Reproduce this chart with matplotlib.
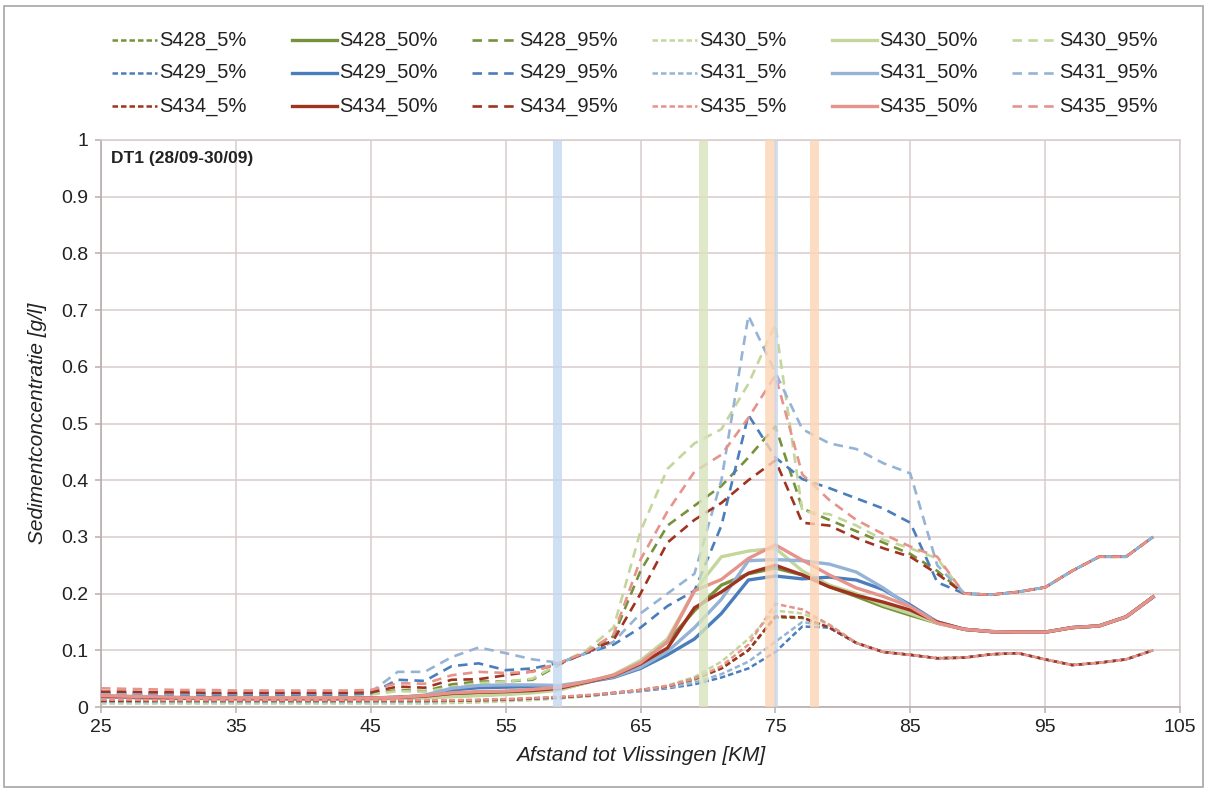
import matplotlib
matplotlib.use("Agg")
import matplotlib.pyplot as plt
from matplotlib.lines import Line2D
from matplotlib.patches import Rectangle
from matplotlib.ticker import FuncFormatter

plt.rcParams['font.family'] = ['Liberation Sans', 'DejaVu Sans']

# Distance from Vlissingen [km]
km = [25, 27, 29, 31, 33, 35, 37, 39, 41, 43, 45, 47, 49, 51, 53, 55, 57, 59, 61, 63,
      65, 67, 69, 71, 73, 75, 77, 79, 81, 83, 85, 87, 89, 91, 93, 95, 97, 99, 101, 103]

# Sediment concentration [g/l] per station and percentile
S428_5 = [0.009, 0.009, 0.008, 0.008, 0.008, 0.008, 0.008, 0.008, 0.008, 0.008, 0.008, 0.009,
          0.009, 0.010, 0.011, 0.012, 0.014, 0.016, 0.019, 0.024,
          0.030, 0.036, 0.048, 0.068, 0.100, 0.158, 0.157, 0.140,
          0.113, 0.097, 0.092, 0.086, 0.087, 0.093, 0.095, 0.084, 0.074, 0.078, 0.084, 0.100]
S428_50 = [0.019, 0.018, 0.017, 0.016, 0.015, 0.015, 0.014, 0.014, 0.014, 0.014, 0.015, 0.016,
           0.017, 0.019, 0.021, 0.023, 0.026, 0.031, 0.043, 0.056,
           0.080, 0.115, 0.170, 0.215, 0.235, 0.245, 0.233, 0.212, 0.195, 0.177, 0.162, 0.148,
           0.137, 0.133, 0.132, 0.132, 0.140, 0.143, 0.159, 0.194]
S428_95 = [0.024, 0.024, 0.023, 0.023, 0.023, 0.022, 0.022, 0.022, 0.022, 0.022, 0.023,
           0.030, 0.028, 0.040, 0.045, 0.045, 0.048, 0.075, 0.097, 0.125,
           0.240, 0.320, 0.355, 0.390, 0.440, 0.495, 0.350, 0.330, 0.310, 0.290, 0.270, 0.240,
           0.200, 0.198, 0.203, 0.211, 0.240, 0.265, 0.265, 0.300]

S430_5 = [0.006, 0.006, 0.006, 0.006, 0.006, 0.006, 0.006, 0.006, 0.006, 0.006, 0.006, 0.006,
          0.006, 0.007, 0.008, 0.010, 0.012, 0.015, 0.019, 0.024,
          0.030, 0.038, 0.053, 0.080, 0.120, 0.170, 0.165, 0.145,
          0.113, 0.097, 0.092, 0.086, 0.087, 0.093, 0.095, 0.084, 0.074, 0.078, 0.084, 0.100]
S430_50 = [0.018, 0.017, 0.016, 0.015, 0.015, 0.014, 0.014, 0.014, 0.014, 0.014, 0.014, 0.015,
           0.016, 0.018, 0.020, 0.022, 0.025, 0.030, 0.043, 0.057,
           0.082, 0.120, 0.205, 0.265, 0.275, 0.280, 0.240, 0.215, 0.200, 0.180, 0.165, 0.148,
           0.137, 0.133, 0.132, 0.132, 0.140, 0.143, 0.159, 0.194]
S430_95 = [0.022, 0.022, 0.021, 0.021, 0.021, 0.021, 0.021, 0.021, 0.021, 0.021, 0.022,
           0.028, 0.027, 0.035, 0.042, 0.045, 0.050, 0.077, 0.100, 0.140,
           0.310, 0.420, 0.465, 0.490, 0.570, 0.675, 0.345, 0.340, 0.320, 0.295, 0.280, 0.262,
           0.200, 0.198, 0.203, 0.211, 0.240, 0.265, 0.265, 0.300]

S429_5 = [0.010, 0.010, 0.010, 0.010, 0.010, 0.010, 0.010, 0.010, 0.010, 0.010, 0.010, 0.010,
          0.010, 0.011, 0.012, 0.013, 0.015, 0.017, 0.020, 0.024,
          0.028, 0.033, 0.040, 0.052, 0.068, 0.097, 0.142, 0.140,
          0.113, 0.097, 0.092, 0.086, 0.087, 0.093, 0.095, 0.084, 0.074, 0.078, 0.084, 0.100]
S429_50 = [0.018, 0.017, 0.016, 0.016, 0.015, 0.015, 0.015, 0.015, 0.015, 0.015, 0.016, 0.017,
           0.020, 0.030, 0.034, 0.035, 0.036, 0.036, 0.044, 0.052,
           0.068, 0.092, 0.120, 0.165, 0.224, 0.231, 0.226, 0.229, 0.224, 0.207, 0.180, 0.150,
           0.137, 0.133, 0.132, 0.132, 0.140, 0.143, 0.159, 0.194]
S429_95 = [0.022, 0.022, 0.022, 0.022, 0.022, 0.022, 0.022, 0.022, 0.022, 0.022, 0.024,
           0.048, 0.046, 0.072, 0.077, 0.065, 0.068, 0.078, 0.095, 0.110,
           0.140, 0.178, 0.205, 0.320, 0.515, 0.440, 0.402, 0.386, 0.368, 0.350, 0.325, 0.220,
           0.200, 0.198, 0.203, 0.211, 0.240, 0.265, 0.265, 0.300]

S431_5 = [0.010, 0.010, 0.010, 0.010, 0.010, 0.010, 0.010, 0.010, 0.010, 0.010, 0.010, 0.010,
          0.010, 0.011, 0.012, 0.013, 0.015, 0.017, 0.020, 0.024,
          0.028, 0.034, 0.043, 0.058, 0.080, 0.115, 0.150, 0.142,
          0.113, 0.097, 0.092, 0.086, 0.087, 0.093, 0.095, 0.084, 0.074, 0.078, 0.084, 0.100]
S431_50 = [0.018, 0.017, 0.016, 0.016, 0.015, 0.015, 0.015, 0.015, 0.015, 0.015, 0.016, 0.017,
           0.021, 0.033, 0.038, 0.039, 0.039, 0.038, 0.045, 0.053,
           0.070, 0.098, 0.140, 0.190, 0.258, 0.260, 0.258, 0.252, 0.238, 0.210, 0.177, 0.150,
           0.137, 0.133, 0.132, 0.132, 0.140, 0.143, 0.159, 0.194]
S431_95 = [0.024, 0.024, 0.024, 0.024, 0.024, 0.024, 0.024, 0.024, 0.024, 0.024, 0.026,
           0.062, 0.062, 0.088, 0.105, 0.095, 0.084, 0.078, 0.095, 0.115,
           0.165, 0.200, 0.235, 0.400, 0.690, 0.590, 0.490, 0.465, 0.455, 0.430, 0.412, 0.250,
           0.200, 0.198, 0.203, 0.211, 0.240, 0.265, 0.265, 0.300]

S434_5 = [0.011, 0.011, 0.011, 0.011, 0.011, 0.011, 0.011, 0.011, 0.011, 0.011, 0.011, 0.011,
          0.011, 0.011, 0.012, 0.013, 0.015, 0.017, 0.020, 0.025,
          0.030, 0.036, 0.050, 0.068, 0.100, 0.160, 0.158, 0.140,
          0.113, 0.097, 0.092, 0.086, 0.087, 0.093, 0.095, 0.084, 0.074, 0.078, 0.084, 0.100]
S434_50 = [0.019, 0.018, 0.017, 0.016, 0.016, 0.015, 0.015, 0.015, 0.015, 0.015, 0.016, 0.017,
           0.019, 0.024, 0.026, 0.027, 0.029, 0.033, 0.044, 0.055,
           0.076, 0.104, 0.175, 0.203, 0.236, 0.250, 0.233, 0.212, 0.197, 0.185, 0.171, 0.150,
           0.137, 0.133, 0.132, 0.132, 0.140, 0.143, 0.159, 0.194]
S434_95 = [0.027, 0.027, 0.026, 0.026, 0.025, 0.025, 0.025, 0.025, 0.025, 0.025, 0.026,
           0.036, 0.034, 0.048, 0.049, 0.056, 0.063, 0.077, 0.096, 0.118,
           0.200, 0.290, 0.330, 0.360, 0.400, 0.435, 0.325, 0.320, 0.298, 0.280, 0.265, 0.235,
           0.200, 0.198, 0.203, 0.211, 0.240, 0.265, 0.265, 0.300]

S435_5 = [0.013, 0.013, 0.012, 0.012, 0.012, 0.012, 0.012, 0.012, 0.012, 0.012, 0.012, 0.012,
          0.012, 0.012, 0.013, 0.014, 0.016, 0.018, 0.021, 0.025,
          0.030, 0.037, 0.050, 0.072, 0.110, 0.182, 0.172, 0.145,
          0.113, 0.097, 0.092, 0.086, 0.087, 0.093, 0.095, 0.084, 0.074, 0.078, 0.084, 0.100]
S435_50 = [0.020, 0.019, 0.018, 0.017, 0.016, 0.016, 0.016, 0.016, 0.016, 0.016, 0.016, 0.017,
           0.020, 0.025, 0.027, 0.028, 0.031, 0.035, 0.045, 0.056,
           0.078, 0.115, 0.205, 0.225, 0.262, 0.286, 0.259, 0.233, 0.210, 0.195, 0.177, 0.148,
           0.137, 0.133, 0.132, 0.132, 0.140, 0.143, 0.159, 0.194]
S435_95 = [0.033, 0.032, 0.031, 0.030, 0.030, 0.029, 0.029, 0.029, 0.029, 0.029, 0.030,
           0.042, 0.041, 0.056, 0.062, 0.060, 0.062, 0.078, 0.097, 0.128,
           0.260, 0.345, 0.415, 0.445, 0.510, 0.585, 0.410, 0.365, 0.330, 0.305, 0.283, 0.265,
           0.200, 0.198, 0.203, 0.211, 0.240, 0.265, 0.265, 0.300]

stations = ["S428", "S430", "S429", "S431", "S434", "S435"]
station_colors = {"S428": "#76923c", "S430": "#c3d69b", "S429": "#4a7dbb",
                  "S431": "#95b3d7", "S434": "#a0331f", "S435": "#e6938c"}
series = {
    "S428": (S428_5, S428_50, S428_95),
    "S430": (S430_5, S430_50, S430_95),
    "S429": (S429_5, S429_50, S429_95),
    "S431": (S431_5, S431_50, S431_95),
    "S434": (S434_5, S434_50, S434_95),
    "S435": (S435_5, S435_50, S435_95),
}
percentiles = ["5%", "50%", "95%"]

# Highlighted locations along the river [km]
band_km = [58.8, 69.6, 74.6, 75.05, 77.9]
band_colors = ["#c5d9f1", "#d7e4bc", "#fcd5b4", "#c5d9f1", "#fcd5b4"]
band_widths = [6.5, 6.5, 7.0, 2.2, 6.5]

styles = {
    "5%": dict(lw=1.8, dashes=(2.2, 1.2)),
    "50%": dict(lw=2.4, dashes=None),
    "95%": dict(lw=1.9, dashes=(3.6, 2.4)),
}

W, H = 1208, 791
fig = plt.figure(figsize=(W / 100, H / 100), dpi=100)
fig.patch.set_facecolor("white")

x0, x1, ytop, ybot = 101, 1180, 140, 707
ax = fig.add_axes([x0 / W, 1 - ybot / H, (x1 - x0) / W, (ybot - ytop) / H])

grid_c = "#d8cbcb"
for st in stations:
    for p, vals in zip(percentiles, series[st]):
        s = styles[p]
        line, = ax.plot(km, vals, color=station_colors[st], lw=s["lw"],
                        solid_joinstyle="round", zorder=3)
        if s["dashes"]:
            line.set_dashes(s["dashes"])

for xk, c, w in zip(band_km, band_colors, band_widths):
    ax.axvline(xk, color=c, lw=w, alpha=0.8, zorder=5, solid_capstyle="butt")

ax.set_xlim(25, 105)
ax.set_ylim(0, 1)
ax.set_xticks(range(25, 106, 10))
ax.set_yticks([i / 10 for i in range(11)])
ax.yaxis.set_major_formatter(FuncFormatter(lambda v, _: f"{v:g}"))
ax.grid(True, color=grid_c, lw=1.1, zorder=0)
ax.set_axisbelow(True)
for side in ["top", "right"]:
    ax.spines[side].set_color(grid_c)
    ax.spines[side].set_linewidth(1.1)
for side in ["left", "bottom"]:
    ax.spines[side].set_color("#b9adad")
    ax.spines[side].set_linewidth(1.2)
ax.tick_params(axis="both", direction="out", length=4, width=1.1, color="#b9adad",
               labelsize=14, labelcolor="#222222", pad=5)

ax.set_xlabel("Afstand tot Vlissingen [KM]", fontsize=15, style="italic", color="#222222",
              labelpad=7)
ax.set_ylabel("Sedimentconcentratie [g/l]", fontsize=15, style="italic", color="#222222",
              labelpad=10)

ax.text(0.009, 0.968, "DT1 (28/09-30/09)", transform=ax.transAxes, fontsize=12.5,
        fontweight="bold", color="#222222", va="center", ha="left")

# Legend laid out as a 3 x 6 grid above the plot
legend_rows = [["S428", "S430"], ["S429", "S431"], ["S434", "S435"]]
row_y = [40, 73, 106]
col_pitch = 180
first_x = 112
handle_len = 45
for r, pair in enumerate(legend_rows):
    for k, st in enumerate(pair):
        for j, p in enumerate(percentiles):
            c = k * 3 + j
            hx = first_x + c * col_pitch
            yy = 1 - row_y[r] / H
            s = styles[p]
            ln = Line2D([hx / W, (hx + handle_len) / W], [yy, yy], transform=fig.transFigure,
                        color=station_colors[st], lw=s["lw"])
            if s["dashes"]:
                ln.set_dashes(s["dashes"])
            fig.add_artist(ln)
            fig.text((hx + handle_len + 2) / W, yy, f"{st}_{p}", fontsize=14.5,
                     color="#222222", va="center", ha="left")

fig.add_artist(Rectangle((4 / W, 1 - 787 / H), 1199 / W, 781 / H, transform=fig.transFigure,
                         fill=False, edgecolor="#a6a6a6", lw=1.2))

fig.savefig("out.png", dpi=100, facecolor="white")
